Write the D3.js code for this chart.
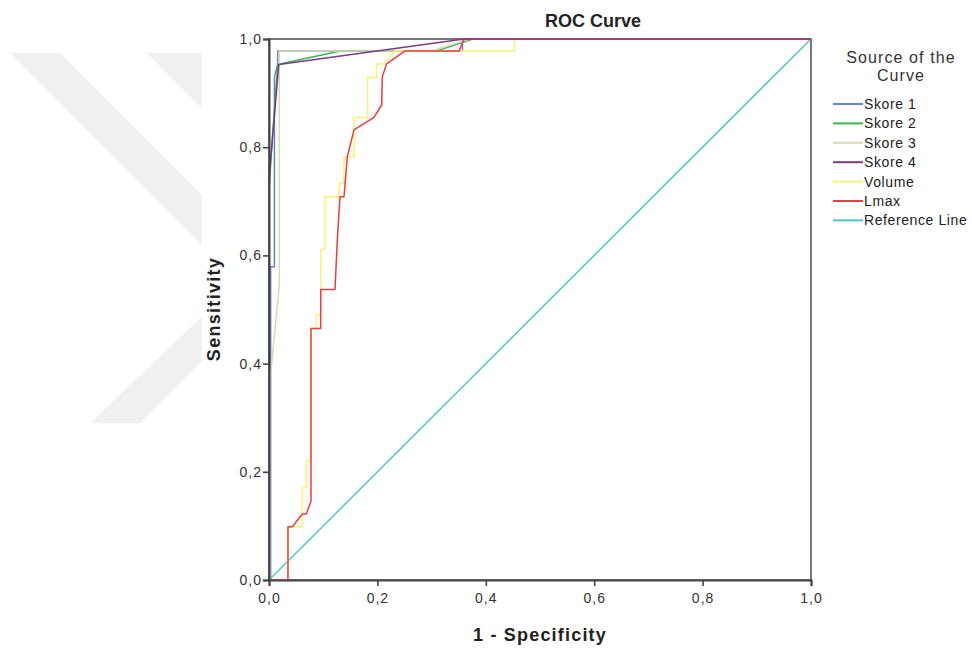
<!DOCTYPE html>
<html><head><meta charset="utf-8">
<script src="https://cdn.jsdelivr.net/npm/d3@7"></script>
<style>body{margin:0;background:#fff;}svg{display:block;font-family:"Liberation Sans",Arial,sans-serif;}</style>
</head><body><svg id="c" width="972" height="651"></svg>
<script>
const seriesNames = ["Skore 1","Skore 2","Skore 3","Skore 4","Volume","Lmax","Reference Line"];
const seriesColors = ["#6384d0","#36b84f","#dcd8b4","#7c3a84","#f8f46e","#ef3b3f","#4ec8c8"];
const skore1 = [[0,0],[0.003,0],[0.003,0.579],[0.010,0.579],[0.010,0.930],[0.016,0.953],[0.016,0.978],[0.357,0.978],[0.357,1],[1,1]];
const skore2 = [[0,0],[0,0.72],[0.005,0.80],[0.016,0.953],[0.131,0.978],[0.31,0.978],[0.376,1],[1,1]];
const skore3 = [[0,0],[0.002,0],[0.002,0.37],[0.019,0.545],[0.019,0.978],[0.30,0.978],[0.37,1],[1,1]];
const skore4 = [[0,0],[0,0.74],[0.018,0.953],[0.36,1],[1,1]];
const volume = [[0,0],[0.035,0],[0.035,0.0985],[0.0614,0.0985],[0.0614,0.171],[0.0688,0.171],[0.0688,0.2205],[0.0769,0.2205],[0.0769,0.465],[0.0873,0.465],[0.0873,0.490],[0.0954,0.490],[0.0954,0.611],[0.1033,0.611],[0.1033,0.7085],[0.1297,0.7085],[0.1297,0.733],[0.1384,0.733],[0.1384,0.782],[0.1568,0.782],[0.1568,0.855],[0.1818,0.855],[0.1818,0.929],[0.1983,0.929],[0.1983,0.954],[0.211,0.954],[0.2325,0.978],[0.4526,0.978],[0.4526,1],[1,1]];
const lmax = [[0,0],[0.035,0],[0.035,0.0985],[0.043,0.0985],[0.0614,0.122],[0.0688,0.122],[0.0775,0.146],[0.0775,0.465],[0.0954,0.465],[0.0954,0.537],[0.1218,0.537],[0.126,0.628],[0.131,0.7085],[0.1384,0.7085],[0.1445,0.782],[0.1568,0.832],[0.1937,0.855],[0.2079,0.878],[0.209,0.930],[0.217,0.954],[0.251,0.978],[0.3506,0.978],[0.36,1],[1,1]];
const referenceLine = [[0,0],[1,1]];
const seriesData = [skore1,skore2,skore3,skore4,volume,lmax,referenceLine];
const tickValues = [0,0.2,0.4,0.6,0.8,1.0];
const tickLabels = ["0,0","0,2","0,4","0,6","0,8","1,0"];
const watermark = [
  [[10,53],[60,53],[201.7,195],[201.7,245]],
  [[146.7,53],[201.7,53],[201.7,108.3]],
  [[90,423.3],[140,423.3],[201.7,361.6],[201.7,316.7]]
];

const svg = d3.select("#c");
const x = d3.scaleLinear().domain([0,1]).range([269,811]);
const y = d3.scaleLinear().domain([0,1]).range([580,39]);

// watermark
svg.append("g").selectAll("polygon").data(watermark).join("polygon")
  .attr("points", d => d.map(p => p.join(",")).join(" "))
  .attr("fill", "#f0f0f0");

// frame
svg.append("rect").attr("x",269).attr("y",39).attr("width",542).attr("height",541)
  .attr("fill","none").attr("stroke","#555").attr("stroke-width",1.6);

// series
const line = d3.line().x(d => x(d[0])).y(d => y(d[1]));
const order = [6,0,1,2,4,5,3];
svg.append("g").selectAll("path").data(order).join("path")
  .attr("d", i => line(seriesData[i]))
  .attr("fill","none")
  .attr("stroke", i => seriesColors[i])
  .attr("stroke-width", 1.5)
  .attr("stroke-linejoin","round");

// axes
const xAxis = d3.axisBottom(x).tickValues(tickValues).tickFormat((d,i)=>tickLabels[i]).tickSize(6).tickPadding(7);
const yAxis = d3.axisLeft(y).tickValues(tickValues).tickFormat((d,i)=>tickLabels[i]).tickSize(6).tickPadding(2);
const gx = svg.append("g").attr("transform","translate(0,580)").call(xAxis);
const gy = svg.append("g").attr("transform","translate(269,0)").call(yAxis);
[gx,gy].forEach(g => {
  g.select(".domain").attr("stroke","#444").attr("stroke-width",2);
  g.selectAll(".tick line").attr("stroke","#444").attr("stroke-width",1.6);
  g.selectAll(".tick text").attr("fill","#333").style("font-size","14px").style("letter-spacing","1px")
   .style("font-family","'Liberation Sans',Arial,sans-serif");
});
gy.selectAll(".tick text").attr("dx","1");

// titles
svg.append("text").attr("x",593).attr("y",27).attr("text-anchor","middle")
  .style("font-size","18px").style("font-weight","bold").attr("fill","#222").text("ROC Curve");
svg.append("text").attr("x",540).attr("y",641).attr("text-anchor","middle")
  .style("font-size","18px").style("font-weight","bold").style("letter-spacing","1.2px").attr("fill","#222").text("1 - Specificity");
svg.append("text").attr("transform","translate(220,309) rotate(-90)").attr("text-anchor","middle")
  .style("font-size","18px").style("font-weight","bold").style("letter-spacing","1.3px").attr("fill","#222").text("Sensitivity");

// legend
const lg = svg.append("g");
lg.append("text").attr("x",901).attr("y",63).attr("text-anchor","middle").style("font-size","16px").style("letter-spacing","1.1px").attr("fill","#333").text("Source of the");
lg.append("text").attr("x",901).attr("y",81).attr("text-anchor","middle").style("font-size","16px").style("letter-spacing","1.1px").attr("fill","#333").text("Curve");
const items = lg.selectAll("g.item").data(seriesNames).join("g").attr("class","item")
  .attr("transform",(d,i)=>`translate(0,${104 + i*19.4})`);
items.append("line").attr("x1",833).attr("x2",863).attr("y1",0).attr("y2",0)
  .attr("stroke",(d,i)=>seriesColors[i]).attr("stroke-width",2);
items.append("text").attr("x",864).attr("y",5).style("font-size","14px").style("letter-spacing","0.6px").attr("fill","#222").text(d=>d);
</script></body></html>
